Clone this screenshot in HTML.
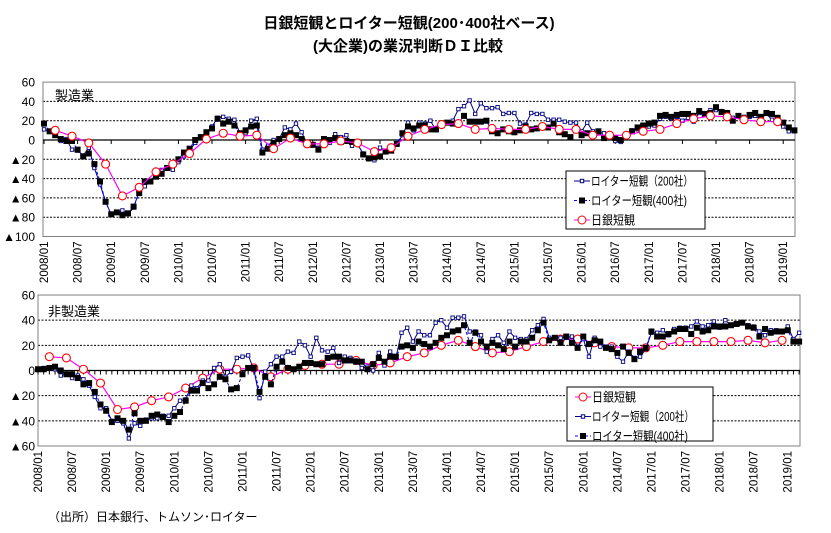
<!DOCTYPE html>
<html><head><meta charset="utf-8">
<style>
body{margin:0;background:#fff;}
svg text{font-family:"Liberation Sans","Noto Sans CJK JP",sans-serif;}
</style></head>
<body>
<svg id="s" width="831" height="528" xmlns="http://www.w3.org/2000/svg">
<rect width="831" height="528" fill="#fff"/>
<text x="409" y="28" font-size="15" font-weight="bold" text-anchor="middle">日銀短観とロイター短観(200･400社ベース)</text>
<text x="408" y="51" font-size="15" font-weight="bold" text-anchor="middle">(大企業)の業況判断ＤＩ比較</text>
<text x="48" y="521" font-size="12">（出所）日本銀行、トムソン･ロイター</text>
</svg>
<script>
var S=document.getElementById('s'),NS='http://www.w3.org/2000/svg';
function el(t,a,txt){var e=document.createElementNS(NS,t);for(var k in a)e.setAttribute(k,a[k]);if(txt!=null)e.textContent=txt;S.appendChild(e);return e;}
function chart(c){
 var X=function(m){return c.x0+m*c.dx;},Y=function(v){return c.yz-v*c.dy;};
 for(var v=c.ymin;v<=c.ymax;v+=20){
  if(v!==0&&v!==c.ymax&&v!==c.ymin) el('line',{x1:c.L,x2:c.R,y1:Y(v),y2:Y(v),stroke:'#000','stroke-width':1,'stroke-dasharray':'2,1.5'});
  el('text',{x:35,y:Y(v)+4.5,'font-size':12,'text-anchor':'end'},(v<0?'▲':'')+Math.abs(v));
 }
 el('rect',{x:c.L,y:Y(c.ymax),width:c.R-c.L,height:Y(c.ymin)-Y(c.ymax),fill:'none',stroke:'#808080'});
 el('line',{x1:c.L,x2:c.R,y1:c.yz,y2:c.yz,stroke:'#000','stroke-width':1.3});
 for(var m=0;m<=134;m+=c.tk) el('line',{x1:X(m),x2:X(m),y1:c.yz,y2:c.yz+4,stroke:'#000'});
 var labs=['2008/01','2008/07','2009/01','2009/07','2010/01','2010/07','2011/01','2011/07','2012/01','2012/07','2013/01','2013/07','2014/01','2014/07','2015/01','2015/07','2016/01',c.odd,'2017/01','2017/07','2018/01','2018/07','2019/01'];
 labs.forEach(function(l,i){var x=X(i*6)+4,y=Y(c.ymin)+5;el('text',{x:x,y:y,'font-size':11.5,'text-anchor':'end',transform:'rotate(-90 '+x+' '+y+')'},l);});
 el('text',{x:c.lx,y:c.ly,'font-size':13},c.name);
 function pts(arr,st,step){return arr.map(function(v,i){return [X(st+i*step),Y(v)];});}
 var p2=pts(c.r2,0,1),p4=pts(c.r4,0,1),pt=pts(c.tk3,2,3);
 var ps=function(p){return p.map(function(q){return q[0].toFixed(1)+','+q[1].toFixed(1)}).join(' ');};
 function draw(k){
  if(k=='t'){el('polyline',{points:ps(pt),fill:'none',stroke:'#f0f','stroke-width':1.2});pt.forEach(function(q){el('circle',{cx:q[0],cy:q[1],r:4,fill:'#fff',stroke:'#f00','stroke-width':1.1});});}
  if(k=='2'){el('polyline',{points:ps(p2),fill:'none',stroke:'#000080','stroke-width':1});p2.forEach(function(q){el('rect',{x:q[0]-1.7,y:q[1]-1.7,width:3.4,height:3.4,fill:'#fff',stroke:'#000080','stroke-width':0.9});});}
  if(k=='4'){el('polyline',{points:ps(p4),fill:'none',stroke:'#00f','stroke-width':1,'stroke-dasharray':'3,2'});p4.forEach(function(q){el('rect',{x:q[0]-3,y:q[1]-3,width:6,height:6,fill:'#000'});});}
 }
 c.order.forEach(draw);
 var g=c.lg;el('rect',{x:g.x,y:g.y,width:g.w,height:g.h,fill:'#fff',stroke:'#000','stroke-width':1});
 g.items.forEach(function(it,i){var yy=g.y+10+i*19.5,x1=g.x+8,x2=g.x+24,xm=(x1+x2)/2,tx=x2+1;
  if(it=='2'){el('line',{x1:x1,x2:x2,y1:yy,y2:yy,stroke:'#000080'});el('rect',{x:xm-1.7,y:yy-1.7,width:3.4,height:3.4,fill:'#fff',stroke:'#000080'});el('text',{x:tx,y:yy+4.5,'font-size':12.5,textLength:102,lengthAdjust:'spacingAndGlyphs'},'ロイター短観（200社）');}
  if(it=='4'){el('line',{x1:x1,x2:x2,y1:yy,y2:yy,stroke:'#00f','stroke-dasharray':'3,2'});el('rect',{x:xm-3,y:yy-3,width:6,height:6,fill:'#000'});el('text',{x:tx,y:yy+4.5,'font-size':12.5,textLength:96,lengthAdjust:'spacingAndGlyphs'},'ロイター短観(400社)');}
  if(it=='t'){el('line',{x1:x1,x2:x2,y1:yy,y2:yy,stroke:'#f0f'});el('circle',{cx:xm,cy:yy,r:4,fill:'#fff',stroke:'#f00'});el('text',{x:tx,y:yy+4.5,'font-size':12.5,textLength:44,lengthAdjust:'spacingAndGlyphs'},'日銀短観');}
 });
}
chart({L:43,R:795,x0:44,dx:5.6,yz:140,dy:0.965,ymin:-100,ymax:60,tk:6,odd:'2016/07',name:'製造業',lx:55,ly:100,
 r2:[11,9,5,-1,1,-10,-11,-16,-8,-29,-46,-64,-77,-75,-73,-77,-70,-53,-48,-43,-35,-31,-29,-31,-23,-17,-11,-3,3,8,14,23,24,22,21,7,7,20,22,-10,-6,0,1,13,11,17,8,-4,-5,-8,-2,-3,6,3,5,-6,-5,-14,-20,-21,-8,-11,-11,-5,5,18,10,18,17,20,10,17,18,20,32,35,41,27,38,33,33,34,27,28,28,17,16,28,27,27,21,21,21,19,18,18,9,18,9,8,7,3,-1,-2,5,10,11,14,14,15,22,24,22,24,20,23,19,28,26,31,31,30,27,23,24,24,24,25,22,27,21,20,14,9,9],
 r4:[17,9,5,1,-1,-1,-10,-17,-14,-25,-43,-64,-77,-75,-78,-76,-69,-55,-43,-43,-38,-35,-29,-25,-20,-13,-9,0,3,8,12,22,17,19,15,7,10,14,15,-13,-9,-3,1,5,7,5,1,-3,-5,-10,1,0,2,-2,-1,-2,-3,-15,-19,-18,-17,-12,-11,-4,7,14,12,15,15,11,11,16,18,17,17,25,19,19,19,20,9,7,11,9,8,10,14,11,12,14,13,17,8,6,3,10,5,7,6,9,2,5,2,0,5,9,13,15,17,18,25,26,24,26,27,27,25,30,27,28,34,29,28,20,25,22,26,28,24,28,27,23,18,13,10],
 tk3:[10,4,-3,-25,-58,-49,-33,-25,-14,1,7,4,5,-9,2,-4,-4,-1,-3,-12,-8,4,11,16,17,11,12,11,11,14,11,11,5,5,5,9,11,17,22,25,24,21,19,19],
 order:['2','4','t'],lg:{x:566,y:171,w:139,h:58,items:['2','4','t']}});
chart({L:38,R:800,x0:38,dx:5.68,yz:370.5,dy:1.258,ymin:-60,ymax:60,tk:1,odd:'2014/07',name:'非製造業',lx:48,ly:316,
 r2:[1,2,2,1,-4,-3,-6,-4,-7,-12,-21,-30,-30,-40,-40,-42,-54,-42,-44,-39,-38,-38,-36,-36,-30,-24,-23,-12,-14,-8,-8,2,5,-5,-1,10,11,12,1,-22,-1,5,11,11,15,14,23,20,11,26,16,15,18,6,11,10,8,2,3,0,14,4,15,10,30,34,23,31,28,28,38,40,34,42,42,43,31,31,28,15,25,28,22,31,26,25,25,32,36,41,26,26,26,26,27,19,25,11,26,19,19,19,11,7,15,10,11,17,30,30,32,28,33,34,34,35,39,35,36,39,34,40,36,37,38,36,35,31,28,32,32,31,35,25,30],
 r4:[1,1,2,3,0,-3,-3,-6,-11,-10,-17,-27,-32,-41,-38,-40,-47,-34,-40,-40,-36,-35,-37,-41,-36,-33,-24,-16,-16,-10,-14,-11,-5,-7,-15,-14,-3,2,2,-17,-5,-11,3,7,2,1,3,6,6,5,5,10,11,11,8,8,7,7,1,5,10,7,11,11,19,20,18,23,21,19,22,26,28,31,32,36,22,30,23,19,22,20,17,23,19,23,23,26,32,38,24,26,22,27,22,18,27,21,24,23,18,17,14,19,14,9,15,18,31,27,27,29,31,33,33,29,34,31,32,35,35,35,36,37,38,35,34,27,33,30,31,31,32,23,23],
 tk3:[11,10,1,-10,-31,-29,-24,-21,-14,-6,1,1,2,-5,1,4,5,5,8,4,6,11,14,20,24,19,14,15,19,23,25,25,22,19,18,18,20,23,23,23,23,24,22,24],
 order:['t','2','4'],lg:{x:567,y:387,w:146,h:54,items:['t','2','4']}});
</script>
</body></html>
